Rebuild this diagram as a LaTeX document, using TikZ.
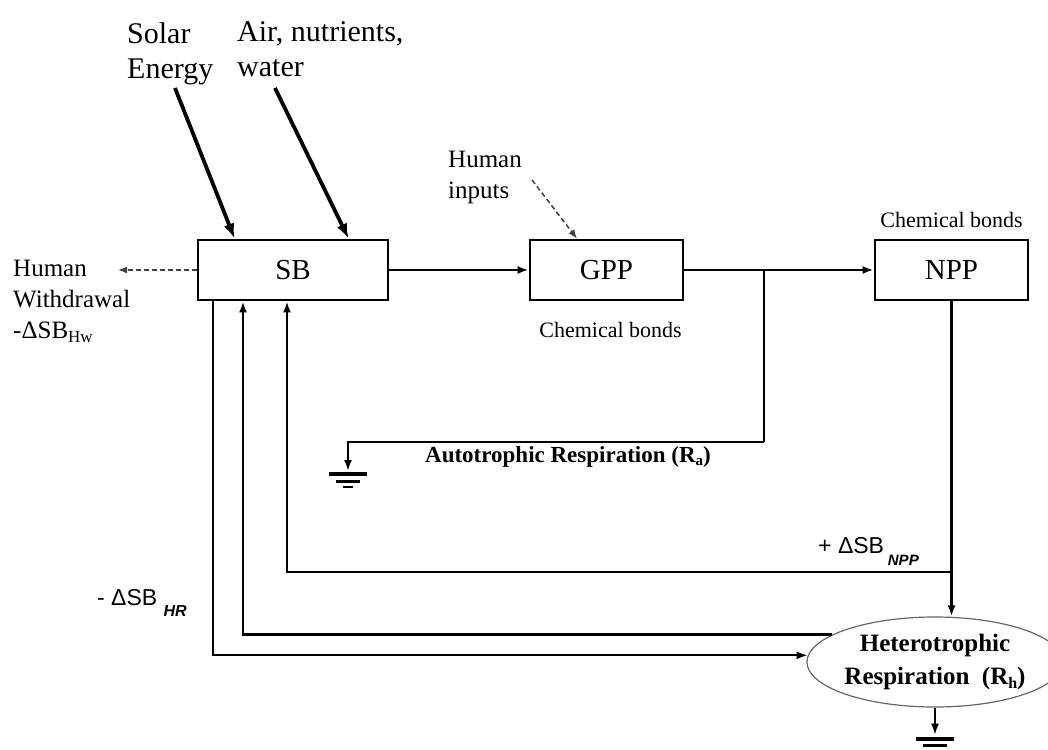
\documentclass[tikz,border=0pt]{standalone}
\usepackage{fontspec}
\setmainfont{Liberation Serif}
\newfontfamily\arial{Liberation Sans}
\usetikzlibrary{positioning,arrows.meta,shapes.geometric}
% ground symbol
\tikzset{earthsym/.pic={
    \draw[line width=4pt] (-19,0) -- (19,0);
    \draw[line width=3pt] (-12,7) -- (12,7);
    \draw[line width=2.5pt] (-5,13) -- (5,13);
}}

\begin{document}
\begin{tikzpicture}[
    x=1pt, y=-1pt,
    box/.style={draw, line width=2.8pt, minimum width=153pt, minimum height=60pt, inner sep=0pt, font=\fontsize{29}{29}\selectfont},
    lbl/.style={inner sep=0pt, align=left, font=\fontsize{25}{31}\selectfont},
    toplbl/.style={inner sep=0pt, align=left, font=\fontsize{30}{35}\selectfont},
    bondlbl/.style={inner sep=0pt, font=\fontsize{22}{22}\selectfont},
    resp/.style={inner sep=0pt, align=center, font=\bfseries\fontsize{23}{23}\selectfont},
    dlbl/.style={inner sep=0pt, font=\arial\fontsize{23}{23}\selectfont},
    arr/.style={-{Latex[length=11pt,width=8pt]}, line width=2.3pt},
    inarr/.style={-{Latex[length=15pt,width=11pt]}, line width=3.8pt},
    darr/.style={-{Latex[length=9pt,width=7pt]}, line width=1.5pt, dash pattern=on 5pt off 3pt, black!75}
]
\useasboundingbox (0,0) rectangle (1048,749);

% Main boxes
\node[box, minimum width=190pt] (sb) at (293,270) {SB};
\node[box] (gpp) at (606.5,270) {GPP};
\node[box] (npp) at (951.5,270) {NPP};
\node[ellipse, draw=black!60, line width=1.2pt, minimum width=224pt, minimum height=90pt, inner sep=0pt, align=center,
      font=\bfseries\fontsize{25}{33}\selectfont] (rh) at (935,662) {Heterotrophic\\Respiration~~(R{\fontsize{16}{16}\selectfont\raisebox{-4pt}{h}})};

% Labels
\node[toplbl, anchor=north west] (solar) at (127,22) {Solar\\Energy};
\node[toplbl, anchor=north west] (air) at (237,21) {Air, nutrients,\\water};
\node[lbl, anchor=north west] (hinput) at (448,151) {Human\\inputs};
\node[lbl, anchor=north west] (hwd) at (13,260) {Human\\Withdrawal\\-ΔSB{\fontsize{17}{17}\selectfont\raisebox{-4pt}{Hw}}};
\node[bondlbl, above=11pt of npp] (bond2) {Chemical bonds};
\node[bondlbl, below=21pt of gpp, xshift=4pt] (bond1) {Chemical bonds};
\node[resp, anchor=base] (ra) at (568,462) {Autotrophic Respiration (R{\fontsize{15}{15}\selectfont\raisebox{-3pt}{a}})};
\node[dlbl, anchor=base west] (dnpp) at (818,553) {+ ΔSB\,\raisebox{-12pt}{\fontsize{15}{15}\selectfont\bfseries\itshape NPP}};
\node[dlbl, anchor=base west] (dhr) at (97,605) {- ΔSB \raisebox{-11pt}{\fontsize{16}{16}\selectfont\bfseries\itshape HR}};

% Inputs
\coordinate (solar-tail) at (175,88);
\coordinate (air-tail) at (275,88);
\coordinate (hi-tail) at (532,180);
\coordinate (hw-tip) at (118,270);
\draw[inarr] (solar-tail) -- ([xshift=38pt]sb.north west);
\draw[inarr] (air-tail) -- ([xshift=152pt]sb.north west);
\draw[darr] (hi-tail) -- ([xshift=-29.5pt]gpp.north);
\draw[darr] (sb.west) -- (hw-tip);

% Forward flow
\draw[arr] (sb.east) -- (gpp.west);
\draw[arr] (gpp.east) -- (npp.west);

% Autotrophic respiration
\coordinate (junc) at (764,270);
\coordinate (ra-top) at (348,442);
\coordinate (ra-end) at (348,471);
\draw[line width=2.3pt] (junc) -- (junc |- ra-top);
\draw[arr] (junc |- ra-top) -| (ra-end);
\pic at (348,474) {earthsym};

% Returns to SB
\coordinate (npp-split) at (npp.south |- 0,572);
\draw[arr] (npp.south) -- (npp.south |- rh.north);
\draw[arr] (npp-split) -| ([xshift=-6pt]sb.south);
\draw[arr] (rh.165) -| ([xshift=-50pt]sb.south);
\draw[arr] ([xshift=-80pt]sb.south) |- (rh.177);

% Heterotrophic respiration to ground
\draw[arr, line width=1.6pt] (rh.south) -- ([yshift=-27pt]rh.south);
\pic at ([yshift=-31pt]rh.south) {earthsym};
\end{tikzpicture}
\end{document}
